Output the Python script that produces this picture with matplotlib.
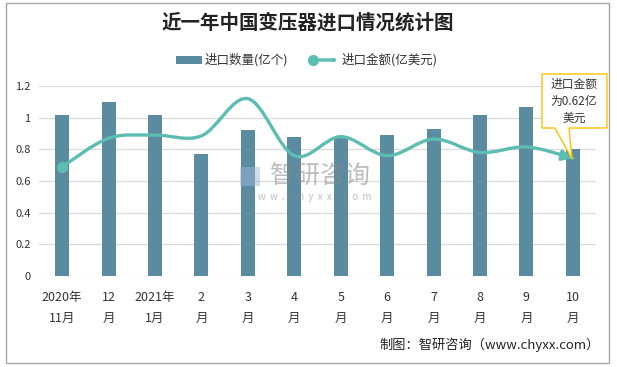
import numpy as np
import matplotlib
matplotlib.use("Agg")
import matplotlib.pyplot as plt
from matplotlib.path import Path
from matplotlib.patches import PathPatch, Rectangle, Polygon, FancyArrowPatch

plt.rcParams['font.family'] = ['Noto Sans CJK SC', 'DejaVu Sans']

# データ
categories = ['2020年\n11月', '12\n月', '2021年\n1月', '2\n月', '3\n月', '4\n月',
              '5\n月', '6\n月', '7\n月', '8\n月', '9\n月', '10\n月']
quantity = [1.02, 1.10, 1.02, 0.77, 0.92, 0.88, 0.87, 0.89, 0.93, 1.02, 1.07, 0.80]
amount = [0.69, 0.87, 0.89, 0.885, 1.12, 0.76, 0.88, 0.76, 0.865, 0.78, 0.815, 0.745]
yticks = [0, 0.2, 0.4, 0.6, 0.8, 1.0, 1.2]
ytick_labels = ['0', '0.2', '0.4', '0.6', '0.8', '1', '1.2']

W, H = 617, 367
bar_color = '#5A8BA1'
line_color = '#5CBDB3'


def px(x, y):
    # ピクセル座標 -> figure座標
    return (x / W, 1 - y / H)


fig = plt.figure(figsize=(W / 100, H / 100), dpi=100)
ax = fig.add_axes([39 / W, 1 - 276 / H, (596 - 39) / W, (276 - 86) / H])

x = np.arange(len(categories))
ax.bar(x, quantity, width=0.30, color=bar_color, zorder=2)

# Excel風のスムージング線（ベジェ）
verts = [(x[0], amount[0])]
codes = [Path.MOVETO]
n = len(amount)
for i in range(n - 1):
    p0 = np.array([x[max(i - 1, 0)], amount[max(i - 1, 0)]])
    p1 = np.array([x[i], amount[i]])
    p2 = np.array([x[i + 1], amount[i + 1]])
    p3 = np.array([x[min(i + 2, n - 1)], amount[min(i + 2, n - 1)]])
    c1 = p1 + (p2 - p0) / 6
    c2 = p2 - (p3 - p1) / 6
    verts += [tuple(c1), tuple(c2), tuple(p2)]
    codes += [Path.CURVE4] * 3
ax.add_patch(PathPatch(Path(verts, codes), fill=False, edgecolor=line_color,
                       lw=2.4, zorder=3, capstyle='round'))
ax.plot(x[0], amount[0], 'o', color=line_color, markersize=7, zorder=4)
ax.annotate('', xy=verts[-1], xytext=verts[-2],
            arrowprops=dict(arrowstyle='-|>,head_length=0.6,head_width=0.3',
                            color=line_color, lw=2.4, shrinkA=0, shrinkB=0),
            zorder=4)

ax.set_xlim(-0.5, len(categories) - 0.5)
ax.set_ylim(0, 1.2)
ax.set_yticks(yticks)
ax.set_yticklabels(ytick_labels, fontsize=8, color='#333333')
ax.set_xticks(x)
ax.set_xticklabels(categories, fontsize=9, color='#333333', linespacing=1.75)
ax.tick_params(length=0, pad=6)
ax.tick_params(axis='x', pad=11)
ax.grid(axis='y', color='#D9D9D9', lw=0.9, zorder=0)
for s in ax.spines.values():
    s.set_visible(False)

# 透かし
fig.text(*px(270, 176), '智研咨询', fontsize=18, color='#888888', alpha=0.55,
         va='center', ha='left')
fig.text(*px(309, 197), 'w  w  w  .  c  h  y  x  x  .  c  o  m', fontsize=7,
         color='#888888', alpha=0.55, va='center', ha='center')
fig.patches.append(Rectangle(px(240, 186), 20 / W, 19 / H, transform=fig.transFigure,
                             facecolor='#9DB8D8', alpha=0.5, edgecolor='none'))

# タイトル
fig.text(*px(308, 23), '近一年中国变压器进口情况统计图', fontsize=14, fontweight='bold',
         ha='center', va='center', color='#222222')

# 凡例
fig.patches.append(Rectangle(px(176, 64), 26 / W, 8 / H, transform=fig.transFigure,
                             facecolor=bar_color, edgecolor='none'))
fig.text(*px(205, 60), '进口数量(亿个)', fontsize=9, va='center', color='#333333')
fig.lines.append(plt.Line2D([313 / W], [1 - 60 / H], marker='o', markersize=7,
                            color=line_color, transform=fig.transFigure))
fig.add_artist(FancyArrowPatch(
    px(313, 60), px(338, 60), transform=fig.transFigure,
    arrowstyle='-|>,head_length=0.6,head_width=0.3', color=line_color, lw=2.4,
    shrinkA=0, shrinkB=0))
fig.text(*px(342, 60), '进口金额(亿美元)', fontsize=9, va='center', color='#333333')

# 吹き出し
callout = [px(542, 74), px(607, 74), px(607, 128), px(569, 128), px(572, 159),
           px(555, 128), px(542, 128)]
fig.patches.append(Polygon(callout, closed=True, transform=fig.transFigure,
                           facecolor='white', edgecolor='#FFC000', lw=1, zorder=5))
fig.text(*px(574, 101), '进口金额\n为0.62亿\n美元', fontsize=8.5, ha='center',
         va='center', color='#333333', linespacing=1.4, zorder=6)

# 出典
fig.text(*px(600, 345), '制图：智研咨询（www.chyxx.com）', fontsize=9.5, ha='right',
         va='center', color='#222222')

# 外枠
fig.patches.append(Rectangle(px(5.5, 363), (609 - 5.5) / W, (363 - 3) / H,
                             transform=fig.transFigure, facecolor='none',
                             edgecolor='#A6A6A6', lw=1))

fig.savefig('out.png', dpi=100)
